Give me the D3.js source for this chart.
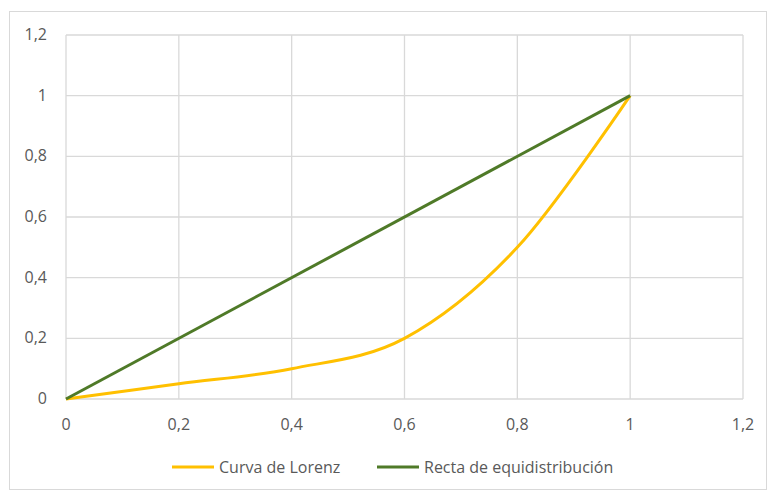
<!DOCTYPE html>
<html>
<head>
<meta charset="utf-8">
<script src="https://cdn.jsdelivr.net/npm/d3@7"></script>
<style>
  body { margin: 0; background: #fff; }
  text { font-family: "Open Sans", "Liberation Sans", sans-serif; fill: #595959; }
</style>
</head>
<body>
<div id="chart-area"></div>
<script>
var width = 767,
    height = 490;

// data
var lorenzX = [0, 0.2, 0.4, 0.6, 0.8, 1];
var lorenzY = [0, 0.05, 0.1, 0.2, 0.5, 1];
var equiX = [0, 1];
var equiY = [0, 1];
var ticks = [0, 0.2, 0.4, 0.6, 0.8, 1, 1.2];
var seriesNames = ["Curva de Lorenz", "Recta de equidistribución"];
var seriesColors = ["#ffc000", "#4f7a28"];

var svg = d3.select("#chart-area").append("svg")
    .attr("width", width)
    .attr("height", height);

// chart border
svg.append("rect")
    .attr("x", 9.5).attr("y", 11.5)
    .attr("width", width - 10).attr("height", height - 12)
    .attr("fill", "none")
    .attr("stroke", "#d9d9d9");

var x = d3.scaleLinear().domain([0, 1.2]).range([66, 743]);
var y = d3.scaleLinear().domain([0, 1.2]).range([399, 35]);

var fmt = function(d) { return String(+d.toFixed(1)).replace(".", ","); };

// gridlines
svg.selectAll(".vgrid")
    .data(ticks)
    .enter().append("line")
    .attr("class", "vgrid")
    .attr("x1", d => x(d)).attr("x2", d => x(d))
    .attr("y1", y(0)).attr("y2", y(1.2))
    .attr("stroke", "#d9d9d9").attr("stroke-width", 1.3);

svg.selectAll(".hgrid")
    .data(ticks)
    .enter().append("line")
    .attr("class", "hgrid")
    .attr("x1", x(0)).attr("x2", x(1.2))
    .attr("y1", d => y(d)).attr("y2", d => y(d))
    .attr("stroke", "#d9d9d9").attr("stroke-width", 1.3);

// axis labels
svg.selectAll(".xlab")
    .data(ticks)
    .enter().append("text")
    .attr("class", "xlab")
    .attr("x", d => x(d))
    .attr("y", y(0) + 31)
    .attr("text-anchor", "middle")
    .attr("font-size", 16)
    .text(fmt);

svg.selectAll(".ylab")
    .data(ticks)
    .enter().append("text")
    .attr("class", "ylab")
    .attr("x", 47)
    .attr("y", d => y(d) + 5)
    .attr("text-anchor", "end")
    .attr("font-size", 16)
    .text(fmt);

// lines
var line = d3.line()
    .x(d => x(d[0]))
    .y(d => y(d[1]))
    .curve(d3.curveCardinal.tension(0));

svg.append("path")
    .datum(d3.zip(lorenzX, lorenzY))
    .attr("d", line)
    .attr("fill", "none")
    .attr("stroke", seriesColors[0])
    .attr("stroke-width", 3);

svg.append("path")
    .datum(d3.zip(equiX, equiY))
    .attr("d", line)
    .attr("fill", "none")
    .attr("stroke", seriesColors[1])
    .attr("stroke-width", 3);

// legend
var legendPos = [172, 377];
var legend = svg.selectAll(".legend")
    .data(seriesNames)
    .enter().append("g")
    .attr("class", "legend")
    .attr("transform", (d, i) => "translate(" + legendPos[i] + ",467)");

legend.append("line")
    .attr("x1", 0).attr("x2", 42)
    .attr("stroke", (d, i) => seriesColors[i])
    .attr("stroke-width", 3);

legend.append("text")
    .attr("x", 47)
    .attr("y", 6)
    .attr("font-size", 16)
    .text(d => d);
</script>
</body>
</html>
